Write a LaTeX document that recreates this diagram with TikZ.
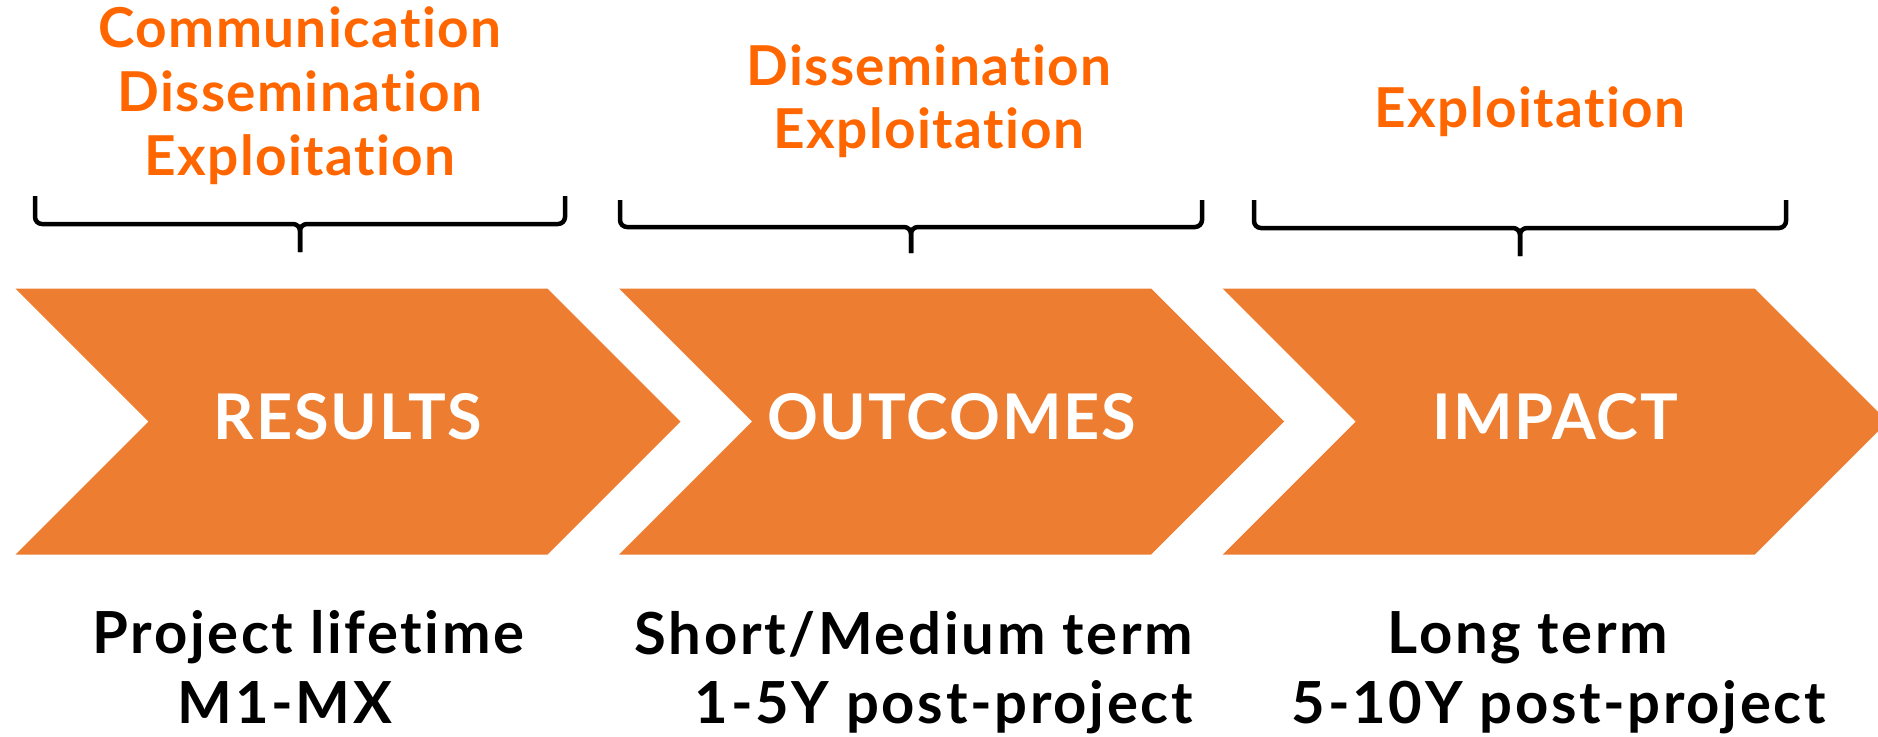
\documentclass[tikz,border=0pt]{standalone}
\usepackage{fontspec}
\setmainfont[Ligatures=NoCommon]{Lato}
\usetikzlibrary{shapes.symbols}
\definecolor{chevorange}{HTML}{ED7D31}
\definecolor{headorange}{HTML}{FF6600}

\begin{document}
\begin{tikzpicture}
                [x=1pt, y=-1pt,
                csty/.style={signal, signal from=west, signal to=east, fill=chevorange, inner sep=0pt,
                    minimum width=665pt, minimum height=266pt, text=white, text height=45pt, text depth=10pt,
                    font=\bfseries\fontsize{63}{63}\selectfont\addfontfeatures{LetterSpace=3}},
                hsty/.style={anchor=base, inner sep=0pt, text=headorange,
                    font=\bfseries\fontsize{55}{63}\selectfont\addfontfeatures{LetterSpace=2.5}},
                bsty/.style={anchor=base, inner sep=0pt,
                    font=\bfseries\fontsize{58}{69}\selectfont\addfontfeatures{LetterSpace=4.6}},
                brsty/.style={line width=4.5pt, rounded corners=7pt}]
                \useasboundingbox (0,0) rectangle (1878,736);
                % headings
                \node[hsty] (comm) at (300,47) {Communication};
                \node[hsty] (dissa) at (300,111) {Dissemination};
                \node[hsty] (expla) at (300,175) {Exploitation};
                \node[hsty] (dissb) at (929,85) {Dissemination};
                \node[hsty] (explb) at (929,148) {Exploitation};
                \node[hsty] (explc) at (1530,127) {Exploitation};
                % braces
                \draw[brsty] (35,196) -- (35,224) -- (300,224) -- (300,252);
                \draw[brsty] (565,196) -- (565,224) -- (300,224) -- (300,252);
                \draw[brsty] (620,200) -- (620,227) -- (911,227) -- (911,253);
                \draw[brsty] (1202,200) -- (1202,227) -- (911,227) -- (911,253);
                \draw[brsty] (1254,200) -- (1254,228) -- (1520,228) -- (1520,256);
                \draw[brsty] (1786,200) -- (1786,228) -- (1520,228) -- (1520,256);
                % chevrons
                \node[csty] (results) at (348,421.6) {RESULTS};
                \node[csty] (outcomes) at (951.6,421.6) {OUTCOMES};
                \node[csty] (impact) at (1555.2,421.6) {IMPACT};
                % time frames
                \node[bsty] (life) at (308.5,653) {Project lifetime};
                \node[bsty] (months) at (285,723) {M1-MX};
                \node[bsty, anchor=base east] (medium) at (1193,654) {Short/Medium term};
                \node[bsty, anchor=base east] (shortyrs) at (1193,723) {1-5Y post-project};
                \node[bsty] (long) at (1528,653) {Long term};
                \node[bsty] (longyrs) at (1559,723) {5-10Y post-project};
            \end{tikzpicture}
\end{document}
